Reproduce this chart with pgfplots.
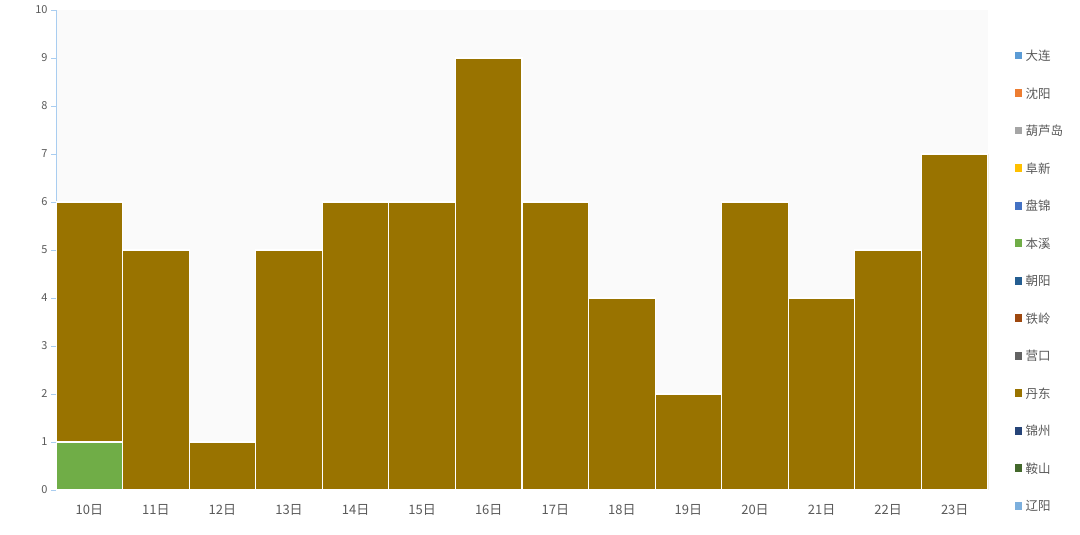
\documentclass[border=0pt]{standalone}
\usepackage{fontspec}
\setmainfont{Noto Sans CJK SC}
\usepackage{pgfplots}
\pgfplotsset{compat=1.18}
\definecolor{cDalian}{HTML}{5B9BD5}
\definecolor{cShenyang}{HTML}{ED7D31}
\definecolor{cHuludao}{HTML}{A5A5A5}
\definecolor{cFuxin}{HTML}{FFC000}
\definecolor{cPanjin}{HTML}{4472C4}
\definecolor{cBenxi}{HTML}{70AD47}
\definecolor{cChaoyang}{HTML}{255E91}
\definecolor{cTieling}{HTML}{9E480E}
\definecolor{cYingkou}{HTML}{636363}
\definecolor{cDandong}{HTML}{997300}
\definecolor{cJinzhou}{HTML}{264478}
\definecolor{cAnshan}{HTML}{43682B}
\definecolor{cLiaoyang}{HTML}{7CAFDD}
\definecolor{axblue}{HTML}{A9CDF0}
\definecolor{txtgray}{HTML}{595959}
\begin{document}
\begin{tikzpicture}[x=1bp,y=1bp]
\path (0,0) rectangle (1080,535);
\begin{axis}[
  at={(56bp,45bp)}, anchor=south west,
  scale only axis, width=932bp, height=480bp,
  ybar stacked, bar width=1,
  xmin=-0.5, xmax=13.5, ymin=0, ymax=10,
  xtick={0,...,13},
  xticklabels={10日,11日,12日,13日,14日,15日,16日,17日,18日,19日,20日,21日,22日,23日},
  ytick={0,...,10},
  axis background/.style={fill=black!2},
  axis x line*=bottom, axis y line*=left,
  x axis line style={draw=none},
  y axis line style={draw=axblue, line width=0.8bp},
  x tick style={draw=none},
  y tick style={draw=axblue, line width=0.8bp},
  tick align=outside, major tick length=5bp,
  xticklabel style={font=\fontsize{13bp}{15bp}\selectfont, text=txtgray, yshift=-6bp},
  yticklabel style={font=\fontsize{11bp}{13bp}\selectfont, text=txtgray},
  /pgf/number format/assume math mode=true,
  legend style={at={(rel axis cs:1.027,0.921)}, anchor=north west, draw=none, fill=none,
    font=\fontsize{12.5bp}{14bp}\selectfont, text=txtgray, row sep=21.5bp, inner sep=0pt},
  legend cell align=left,
  legend image code/.code={\fill[#1] (0bp,-4bp) rectangle (9bp,5bp);},
  every axis plot/.append style={draw=white, line width=1.2bp},
]
\addlegendimage{fill=cDalian}\addlegendentry{大连}
\addlegendimage{fill=cShenyang}\addlegendentry{沈阳}
\addlegendimage{fill=cHuludao}\addlegendentry{葫芦岛}
\addlegendimage{fill=cFuxin}\addlegendentry{阜新}
\addlegendimage{fill=cPanjin}\addlegendentry{盘锦}
\addplot[fill=cBenxi, draw=white] coordinates {(0,1) (1,0) (2,0) (3,0) (4,0) (5,0) (6,0) (7,0) (8,0) (9,0) (10,0) (11,0) (12,0) (13,0)};
\addlegendentry{本溪}
\addlegendimage{fill=cChaoyang}\addlegendentry{朝阳}
\addlegendimage{fill=cTieling}\addlegendentry{铁岭}
\addlegendimage{fill=cYingkou}\addlegendentry{营口}
\addplot[fill=cDandong, draw=white] coordinates {(0,5) (1,5) (2,1) (3,5) (4,6) (5,6) (6,9) (7,6) (8,4) (9,2) (10,6) (11,4) (12,5) (13,7)};
\addlegendentry{丹东}
\addlegendimage{fill=cJinzhou}\addlegendentry{锦州}
\addlegendimage{fill=cAnshan}\addlegendentry{鞍山}
\addlegendimage{fill=cLiaoyang}\addlegendentry{辽阳}
\end{axis}
\end{tikzpicture}
\end{document}
